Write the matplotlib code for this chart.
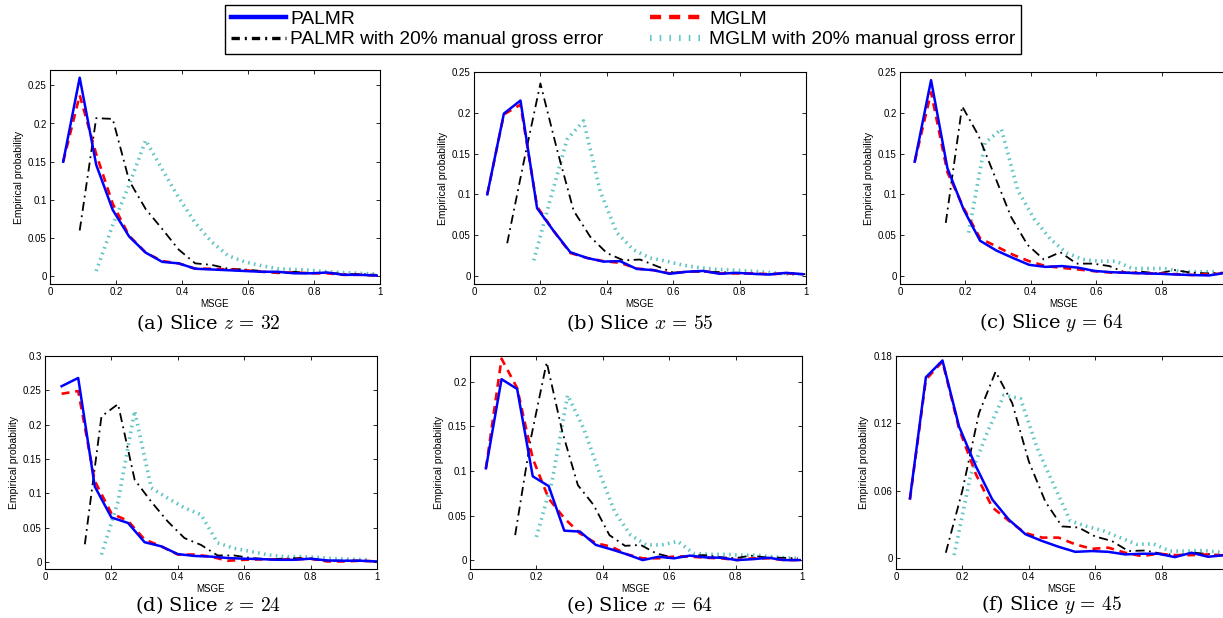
import matplotlib
matplotlib.use("Agg")
import matplotlib.pyplot as plt
from matplotlib.lines import Line2D

plt.rcParams["font.family"] = ["Liberation Sans", "DejaVu Sans"]
plt.rcParams["mathtext.fontset"] = "cm"

# ---- data ----------------------------------------------------------------------
# (a) slice z = 32
a_x = [0.04, 0.09, 0.14, 0.19, 0.24, 0.29, 0.34, 0.39, 0.44, 0.49,
       0.54, 0.59, 0.64, 0.69, 0.74, 0.79, 0.84, 0.89, 0.94, 0.99]
a_palmr = [0.150, 0.260, 0.146, 0.087, 0.052, 0.031, 0.019, 0.017, 0.010, 0.009,
           0.008, 0.007, 0.006, 0.006, 0.004, 0.004, 0.005, 0.002, 0.002, 0.001]
a_mglm = [0.150, 0.237, 0.160, 0.095, 0.053, 0.031, 0.020, 0.017, 0.010, 0.010,
          0.009, 0.008, 0.006, 0.005, 0.005, 0.004, 0.004, 0.002, 0.002, 0.001]
a_x_palmr_err = [0.09, 0.14, 0.19, 0.24, 0.29, 0.34, 0.39, 0.44, 0.49, 0.54,
                 0.59, 0.64, 0.69, 0.74, 0.79, 0.84, 0.89, 0.94, 0.99]
a_palmr_err = [0.060, 0.207, 0.206, 0.125, 0.088, 0.062, 0.035, 0.017, 0.015, 0.010,
               0.009, 0.007, 0.004, 0.006, 0.004, 0.005, 0.003, 0.003, 0.002]
a_x_mglm_err = [0.14, 0.19, 0.24, 0.29, 0.34, 0.39, 0.44, 0.49, 0.54, 0.59,
                0.64, 0.69, 0.74, 0.79, 0.84, 0.89, 0.94, 0.99]
a_mglm_err = [0.007, 0.067, 0.120, 0.178, 0.140, 0.103, 0.070, 0.045, 0.027, 0.019,
              0.014, 0.010, 0.009, 0.008, 0.006, 0.005, 0.004, 0.003]

# (b) slice x = 55
b_x = [0.04, 0.09, 0.14, 0.19, 0.24, 0.29, 0.34, 0.39, 0.44, 0.49,
       0.54, 0.59, 0.64, 0.69, 0.74, 0.79, 0.84, 0.89, 0.94, 0.99]
b_palmr = [0.100, 0.199, 0.215, 0.083, 0.055, 0.029, 0.022, 0.0175, 0.018, 0.0085,
           0.007, 0.0025, 0.005, 0.006, 0.0025, 0.0037, 0.0025, 0.0016, 0.0037, 0.002]
b_mglm = [0.100, 0.198, 0.210, 0.085, 0.055, 0.028, 0.022, 0.018, 0.016, 0.009,
          0.007, 0.003, 0.005, 0.006, 0.003, 0.003, 0.003, 0.002, 0.003, 0.002]
b_x_palmr_err = [0.10, 0.15, 0.20, 0.25, 0.30, 0.35, 0.40, 0.45, 0.50, 0.55,
                 0.60, 0.65, 0.70, 0.75, 0.80, 0.85, 0.90, 0.95, 1.00]
b_palmr_err = [0.040, 0.140, 0.236, 0.155, 0.080, 0.048, 0.028, 0.019, 0.020, 0.012,
               0.004, 0.005, 0.005, 0.0045, 0.003, 0.002, 0.0025, 0.003, 0.002]
b_x_mglm_err = [0.18, 0.23, 0.28, 0.33, 0.38, 0.43, 0.48, 0.53, 0.58, 0.63,
                0.68, 0.73, 0.78, 0.83, 0.88, 0.93, 0.98]
b_mglm_err = [0.019, 0.094, 0.167, 0.190, 0.104, 0.053, 0.032, 0.022, 0.018, 0.013,
              0.010, 0.008, 0.007, 0.006, 0.0045, 0.0025, 0.002]

# (c) slice y = 64
c_x = [0.045, 0.095, 0.145, 0.195, 0.245, 0.295, 0.345, 0.395, 0.445, 0.495,
       0.545, 0.595, 0.645, 0.695, 0.745, 0.795, 0.845, 0.895, 0.945, 0.995]
c_palmr = [0.140, 0.240, 0.132, 0.081, 0.043, 0.031, 0.022, 0.0135, 0.011, 0.012,
           0.010, 0.006, 0.0045, 0.0037, 0.003, 0.0025, 0.0016, 0.001, 0.0005, 0.0037]
c_mglm = [0.140, 0.225, 0.127, 0.083, 0.046, 0.036, 0.026, 0.018, 0.012, 0.0098,
          0.0078, 0.0057, 0.004, 0.004, 0.003, 0.003, 0.002, 0.001, 0.002, 0.003]
c_x_palmr_err = [0.14, 0.19, 0.24, 0.29, 0.34, 0.39, 0.44, 0.49, 0.54, 0.59,
                 0.64, 0.69, 0.74, 0.79, 0.84, 0.89, 0.94, 0.99]
c_palmr_err = [0.065, 0.208, 0.172, 0.122, 0.072, 0.038, 0.020, 0.029, 0.015, 0.015,
               0.012, 0.004, 0.005, 0.003, 0.007, 0.004, 0.003, 0.004]
c_x_mglm_err = [0.21, 0.26, 0.31, 0.36, 0.41, 0.46, 0.51, 0.56, 0.61, 0.66,
                0.71, 0.76, 0.81, 0.86, 0.91, 0.96]
c_mglm_err = [0.053, 0.163, 0.180, 0.105, 0.070, 0.045, 0.028, 0.020, 0.018, 0.018,
              0.009, 0.009, 0.009, 0.005, 0.005, 0.005]

# (d) slice z = 24
d_x = [0.05, 0.10, 0.15, 0.20, 0.25, 0.30, 0.35, 0.40, 0.45, 0.50,
       0.55, 0.60, 0.65, 0.70, 0.75, 0.80, 0.85, 0.90, 0.95, 1.00]
d_palmr = [0.256, 0.268, 0.110, 0.065, 0.057, 0.029, 0.023, 0.0117, 0.009, 0.008,
           0.006, 0.005, 0.0044, 0.0034, 0.0034, 0.005, 0.0024, 0.002, 0.002, 0.001]
d_mglm = [0.245, 0.249, 0.118, 0.071, 0.060, 0.033, 0.023, 0.011, 0.011, 0.008,
          0.002, 0.0034, 0.004, 0.004, 0.004, 0.005, 0.001, 0.001, 0.002, 0.001]
d_x_palmr_err = [0.12, 0.17, 0.22, 0.27, 0.32, 0.37, 0.42, 0.47, 0.52, 0.57,
                 0.62, 0.67, 0.72, 0.77, 0.82, 0.87, 0.92, 0.97]
d_palmr_err = [0.026, 0.212, 0.230, 0.120, 0.088, 0.059, 0.035, 0.025, 0.0097, 0.0097,
               0.006, 0.0044, 0.005, 0.006, 0.0034, 0.002, 0.0024, 0.002]
d_x_mglm_err = [0.17, 0.22, 0.27, 0.32, 0.37, 0.42, 0.47, 0.52, 0.57, 0.62,
                0.67, 0.72, 0.77, 0.82, 0.87, 0.92, 0.97]
d_mglm_err = [0.011, 0.088, 0.220, 0.108, 0.093, 0.079, 0.069, 0.028, 0.020, 0.0156,
              0.0107, 0.008, 0.008, 0.007, 0.005, 0.0044, 0.0034]

# (e) slice x = 64
e_x = [0.048, 0.095, 0.142, 0.189, 0.237, 0.284, 0.331, 0.379, 0.426, 0.473, 0.520,
       0.568, 0.615, 0.662, 0.710, 0.757, 0.804, 0.851, 0.899, 0.946, 0.993]
e_palmr = [0.103, 0.203, 0.192, 0.094, 0.083, 0.033, 0.032, 0.017, 0.012, 0.0064, 0.0,
           0.0037, 0.002, 0.005, 0.003, 0.0026, 0.0, 0.001, 0.0026, 0.0, 0.0]
e_mglm = [0.103, 0.226, 0.193, 0.114, 0.069, 0.047, 0.030, 0.019, 0.015, 0.0064, 0.002,
          0.002, 0.004, 0.004, 0.0026, 0.002, 0.0, 0.002, 0.002, 0.0, 0.0]
e_x_palmr_err = [0.136, 0.183, 0.231, 0.278, 0.325, 0.372, 0.420, 0.467, 0.514, 0.561,
                 0.609, 0.656, 0.703, 0.750, 0.798, 0.845, 0.892, 0.939, 0.987]
e_palmr_err = [0.028, 0.136, 0.222, 0.144, 0.084, 0.062, 0.028, 0.016, 0.017, 0.0075,
               0.003, 0.0045, 0.0056, 0.0034, 0.002, 0.005, 0.003, 0.0026, 0.002]
e_x_mglm_err = [0.200, 0.247, 0.294, 0.342, 0.389, 0.436, 0.484, 0.531, 0.578, 0.626,
                0.673, 0.720, 0.768, 0.815, 0.862, 0.910, 0.957, 0.995]
e_mglm_err = [0.026, 0.088, 0.185, 0.148, 0.099, 0.054, 0.028, 0.017, 0.017, 0.021,
              0.0075, 0.0064, 0.0064, 0.0056, 0.0056, 0.0037, 0.0026, 0.002]

# (f) slice y = 45
f_x = [0.042, 0.09, 0.14, 0.19, 0.24, 0.29, 0.34, 0.39, 0.44, 0.49,
       0.54, 0.59, 0.64, 0.69, 0.74, 0.79, 0.84, 0.89, 0.94, 0.99]
f_palmr = [0.053, 0.161, 0.176, 0.117, 0.082, 0.052, 0.034, 0.021, 0.015, 0.0098,
           0.0053, 0.006, 0.0053, 0.003, 0.0036, 0.0036, 0.0006, 0.0045, 0.0009, 0.0024]
f_mglm = [0.052, 0.159, 0.175, 0.115, 0.075, 0.045, 0.033, 0.022, 0.018, 0.018,
          0.012, 0.008, 0.009, 0.0045, 0.0015, 0.0036, 0.0024, 0.0024, 0.003, 0.002]
f_x_palmr_err = [0.15, 0.20, 0.25, 0.30, 0.35, 0.40, 0.45, 0.50, 0.55, 0.60,
                 0.65, 0.70, 0.75, 0.80, 0.85, 0.90, 0.95, 1.00]
f_palmr_err = [0.0045, 0.060, 0.129, 0.166, 0.138, 0.086, 0.050, 0.028, 0.027, 0.019,
               0.015, 0.006, 0.0065, 0.0036, 0.0024, 0.0045, 0.003, 0.002]
f_x_mglm_err = [0.175, 0.225, 0.275, 0.325, 0.375, 0.425, 0.475, 0.525, 0.575, 0.625,
                0.675, 0.725, 0.775, 0.825, 0.875, 0.925, 0.975]
f_mglm_err = [0.0024, 0.074, 0.112, 0.145, 0.142, 0.098, 0.065, 0.033, 0.028, 0.024,
              0.018, 0.012, 0.0125, 0.006, 0.006, 0.0065, 0.005]

captions = [r"(a) Slice $z\,=\,32$", r"(b) Slice $x\,=\,55$", r"(c) Slice $y\,=\,64$",
            r"(d) Slice $z\,=\,24$", r"(e) Slice $x\,=\,64$", r"(f) Slice $y\,=\,45$"]
y_tops = [0.27, 0.25, 0.25, 0.30, 0.229, 0.18]
y_ticks = [[0, 0.05, 0.1, 0.15, 0.2, 0.25], [0, 0.05, 0.1, 0.15, 0.2, 0.25],
           [0, 0.05, 0.1, 0.15, 0.2, 0.25], [0, 0.05, 0.1, 0.15, 0.2, 0.25, 0.3],
           [0, 0.05, 0.1, 0.15, 0.2], [0, 0.06, 0.12, 0.18]]
x_ticks = [0, 0.2, 0.4, 0.6, 0.8, 1]
labels = ["PALMR", "PALMR with 20% manual gross error",
          "MGLM", "MGLM with 20% manual gross error"]

panels = [
    (a_x, a_palmr, a_mglm, a_x_palmr_err, a_palmr_err, a_x_mglm_err, a_mglm_err),
    (b_x, b_palmr, b_mglm, b_x_palmr_err, b_palmr_err, b_x_mglm_err, b_mglm_err),
    (c_x, c_palmr, c_mglm, c_x_palmr_err, c_palmr_err, c_x_mglm_err, c_mglm_err),
    (d_x, d_palmr, d_mglm, d_x_palmr_err, d_palmr_err, d_x_mglm_err, d_mglm_err),
    (e_x, e_palmr, e_mglm, e_x_palmr_err, e_palmr_err, e_x_mglm_err, e_mglm_err),
    (f_x, f_palmr, f_mglm, f_x_palmr_err, f_palmr_err, f_x_mglm_err, f_mglm_err),
]

# ---- styles ---------------------------------------------------------------------
W, H = 1223, 618
BLUE, RED, BLACK, CYAN = "#0000FF", "#FF0000", "#000000", "#5EC4C4"
st_palmr = dict(color=BLUE, lw=1.8, ls="-")
st_mglm = dict(color=RED, lw=1.9, ls=(0, (3.0, 2.2)))
st_palmr_err = dict(color=BLACK, lw=1.3, ls=(0, (5.0, 2.5, 1.0, 2.5)))
st_mglm_err = dict(color=CYAN, lw=2.6, ls=(0, (0.45, 1.2)), dash_capstyle="butt")

# axes boxes in pixels: left, top, right, bottom (the right column runs off the page)
boxes = [(50, 70, 380, 284), (474, 72, 806, 284), (900, 72, 1227, 284),
         (45, 356, 377, 569), (470, 356, 802, 569), (896, 356, 1228, 569)]
cap_xy = [(208, 323), (640, 323), (1051, 323), (208, 605), (640, 605), (1051, 605)]

fig = plt.figure(figsize=(W / 100, H / 100), dpi=100)

for i, (x, pa, mg, xpe, pe, xme, me) in enumerate(panels):
    l, t, r, b = boxes[i]
    ax = fig.add_axes([l / W, 1 - b / H, (r - l) / W, (b - t) / H])
    ax.plot(xme, me, **st_mglm_err)
    ax.plot(xpe, pe, **st_palmr_err)
    ax.plot(x, mg, **st_mglm)
    ax.plot(x, pa, **st_palmr)
    ax.set_xlim(0, 1)
    ax.set_ylim(-0.01, y_tops[i])
    ax.set_xticks(x_ticks)
    xt = ["0", "0.2", "0.4", "0.6", "0.8", "1"]
    if i in (2, 5):
        xt[-1] = ""  # cut off by the page edge in the reference
    ax.set_xticklabels(xt)
    ax.set_yticks(y_ticks[i])
    ax.set_yticklabels([f"{v:g}" for v in y_ticks[i]])
    ax.tick_params(direction="in", length=3, width=0.6, top=True, right=True,
                   labelsize=7, pad=2.5)
    for s in ax.spines.values():
        s.set_linewidth(0.8)
    ax.set_xlabel("MSGE", fontsize=7, labelpad=1)
    ax.set_ylabel("Empirical probability", fontsize=7.5, labelpad=3)
    cx, cy = cap_xy[i]
    fig.text(cx / W, 1 - cy / H, captions[i], ha="center", va="center",
             fontsize=14, family=["DejaVu Serif"])

handles = [Line2D([], [], color=BLUE, lw=3.2),
           Line2D([], [], color=BLACK, lw=2.4, ls=(0, (2.5, 1.5, 0.6, 1.5))),
           Line2D([], [], color=RED, lw=3.2, ls=(0, (2.5, 1.8))),
           Line2D([], [], color=CYAN, lw=4.5, ls=(0, (0.25, 1.3)), dash_capstyle="butt")]
leg = fig.legend(handles, labels, ncol=2, loc="upper center",
                 bbox_to_anchor=(623 / W, 1 - 5 / H), fontsize=13.8,
                 frameon=True, fancybox=False, edgecolor="black", framealpha=1,
                 handlelength=2.9, handletextpad=0.2, columnspacing=2.4,
                 labelspacing=0.15, borderpad=0.3, borderaxespad=0)
leg.get_frame().set_linewidth(1.0)

fig.savefig("out.png", dpi=100)
